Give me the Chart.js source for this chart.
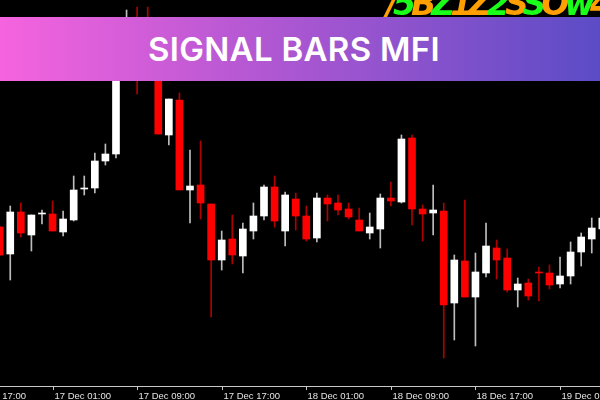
<!DOCTYPE html>
<html>
<head>
<meta charset="utf-8">
<script src="https://cdn.jsdelivr.net/npm/chart.js@4/dist/chart.umd.min.js"></script>
<style>
  html, body { margin: 0; padding: 0; background: #000; }
  #wrap { position: relative; width: 600px; height: 400px; overflow: hidden; background: #000; }
  #chart { position: absolute; left: 0; top: 0; }
  #glyphs {
    position: absolute; left: 386px; top: -16px; white-space: nowrap;
    font: italic bold 33px "DejaVu Sans", sans-serif; letter-spacing: -5px;
  }
  #glyphs .g { color: #19ff19; }
  #glyphs .o { color: #ffa000; }
  #banner {
    position: absolute; left: 0; top: 17px; width: 600px; height: 64px;
    background: linear-gradient(90deg, #f663de 0%, #b057d2 45%, #5b4cc6 100%);
    color: #fff; font: 600 33px "Inter", sans-serif; letter-spacing: 0.3px;
    display: flex; align-items: center; justify-content: center; padding-right: 12px; box-sizing: border-box;
  }
</style>
</head>
<body>
<div id="wrap">
  <canvas id="chart" width="600" height="400"></canvas>
  <div id="glyphs"><span class="o">/</span><span class="g">5</span><span class="o">B</span><span class="g">Z</span><span class="o">1Z</span><span class="g">2</span><span class="o">S</span><span class="g">S</span><span class="o">O</span><span class="g">w</span><span class="o">4</span></div>
  <div id="banner">SIGNAL BARS MFI</div>
</div>
<script>
// H1 candles, 16 Dec 20:00 .. 19 Dec 05:00
const opens = [1817.3, 1814.6, 1818.8, 1816.5, 1818.6, 1818.6, 1816.8, 1818.0, 1821.1, 1821.2,
  1823.9, 1824.6, 1833.8, 1837.0, 1836.5, 1832.8, 1826.5, 1830.0, 1821.0, 1821.5,
  1819.6, 1814.0, 1816.1, 1814.4, 1816.9, 1818.4, 1821.3, 1816.9, 1820.1, 1818.4,
  1816.2, 1820.2, 1819.7, 1819.1, 1818.0, 1816.7, 1817.1, 1820.2, 1819.8, 1826.2,
  1819.1, 1818.7, 1818.9, 1809.7, 1813.9, 1810.3, 1812.7, 1815.2, 1814.2, 1811.0,
  1811.7, 1812.8, 1812.7, 1811.6, 1812.4, 1814.8, 1816.1, 1817.1];
const highs = [1817.4, 1819.4, 1819.7, 1818.5, 1819.0, 1819.9, 1818.9, 1822.4, 1822.4, 1824.7,
  1825.6, 1834.5, 1839.0, 1839.3, 1839.3, 1833.2, 1830.1, 1830.7, 1825.0, 1825.9,
  1819.6, 1816.9, 1818.5, 1817.7, 1819.7, 1821.5, 1822.4, 1820.8, 1820.7, 1819.4,
  1820.7, 1820.5, 1820.5, 1819.7, 1819.2, 1818.7, 1820.6, 1821.8, 1826.5, 1826.5,
  1819.5, 1821.5, 1819.7, 1814.5, 1820.0, 1814.7, 1817.7, 1816.0, 1815.1, 1812.2,
  1812.1, 1813.3, 1813.5, 1814.3, 1815.8, 1816.7, 1818.2, 1819.0];
const lows = [1814.4, 1812.0, 1816.3, 1814.9, 1817.6, 1816.9, 1816.4, 1817.9, 1820.5, 1820.7,
  1823.5, 1824.2, 1833.5, 1830.6, 1832.5, 1826.6, 1825.5, 1821.0, 1817.7, 1818.1,
  1808.3, 1813.0, 1813.6, 1812.7, 1816.1, 1818.0, 1817.3, 1815.4, 1817.0, 1815.9,
  1815.8, 1817.9, 1818.5, 1818.1, 1816.9, 1816.1, 1815.2, 1819.4, 1819.7, 1817.5,
  1815.9, 1816.5, 1804.2, 1806.0, 1810.3, 1805.4, 1812.3, 1812.1, 1810.8, 1809.3,
  1810.0, 1809.9, 1811.1, 1811.2, 1811.6, 1813.4, 1814.7, 1816.8];
const closes = [1814.5, 1818.8, 1816.7, 1818.5, 1818.7, 1816.9, 1818.1, 1821.0, 1821.2, 1823.9,
  1824.6, 1833.8, 1837.0, 1834.0, 1833.0, 1826.6, 1830.1, 1821.0, 1821.4, 1819.7,
  1814.0, 1816.0, 1814.5, 1817.1, 1818.4, 1821.3, 1817.9, 1820.5, 1818.4, 1816.1,
  1820.2, 1819.6, 1819.0, 1818.3, 1816.9, 1817.3, 1820.2, 1819.9, 1826.1, 1819.1,
  1818.6, 1819.0, 1809.5, 1814.0, 1810.3, 1812.8, 1815.4, 1814.0, 1811.0, 1811.6,
  1810.4, 1812.7, 1811.5, 1812.4, 1814.8, 1816.3, 1817.2, 1818.2];

// time axis labels and the candle index each one belongs to
const tickLabels = ['16 Dec 17:00', '17 Dec 01:00', '17 Dec 09:00', '17 Dec 17:00',
  '18 Dec 01:00', '18 Dec 09:00', '18 Dec 17:00', '19 Dec 01:00'];
const tickIndex = [-3, 5, 13, 21, 29, 37, 45, 53];

const isBull = opens.map((o, i) => closes[i] >= o);

// draws the MT4-style time axis under the candles
const timeAxis = {
  id: 'timeAxis',
  afterDraw(chart) {
    const ctx = chart.ctx;
    const xs = chart.scales.x;
    const bottom = chart.chartArea.bottom;
    ctx.save();
    ctx.strokeStyle = '#c8c8c8';
    ctx.lineWidth = 1;
    ctx.beginPath();
    ctx.moveTo(0, bottom + 0.5);
    ctx.lineTo(600, bottom + 0.5);
    ctx.stroke();
    ctx.font = '9.5px "Liberation Sans", sans-serif';
    ctx.fillStyle = '#e4e4e4';
    ctx.textBaseline = 'alphabetic';
    tickLabels.forEach((lbl, i) => {
      const px = Math.round(xs.getPixelForValue(tickIndex[i])) + 0.5;
      ctx.beginPath();
      ctx.moveTo(px, bottom + 1);
      ctx.lineTo(px, bottom + 4);
      ctx.stroke();
      ctx.fillText(lbl, px + 1, 399);
    });
    ctx.restore();
  }
};

const ctx = document.getElementById('chart').getContext('2d');
const candleChart = new Chart(ctx, {
  type: 'bar',
  data: {
    datasets: [
      {
        label: 'Body',
        data: opens.map((o, i) => ({ x: i, y: [o, closes[i]] })),
        backgroundColor: isBull.map(b => b ? '#ffffff' : '#ff0000'),
        borderWidth: 0,
        barThickness: 7,
        minBarLength: 1,
        grouped: false
      },
      {
        label: 'Wick',
        data: lows.map((l, i) => ({ x: i, y: [l, highs[i]] })),
        backgroundColor: isBull.map(b => b ? '#bdbdbd' : '#b00000'),
        borderWidth: 0,
        barThickness: 1,
        grouped: false
      }
    ]
  },
  options: {
    responsive: false,
    animation: false,
    events: [],
    layout: { padding: { left: 0, right: 0, top: 0, bottom: 14 } },
    plugins: { legend: { display: false }, tooltip: { enabled: false } },
    scales: {
      x: { type: 'linear', display: false, min: 0.03, max: 56.78, offset: false },
      y: { display: false, min: 1801.4, max: 1840 }
    }
  },
  plugins: [timeAxis]
});
</script>
</body>
</html>
